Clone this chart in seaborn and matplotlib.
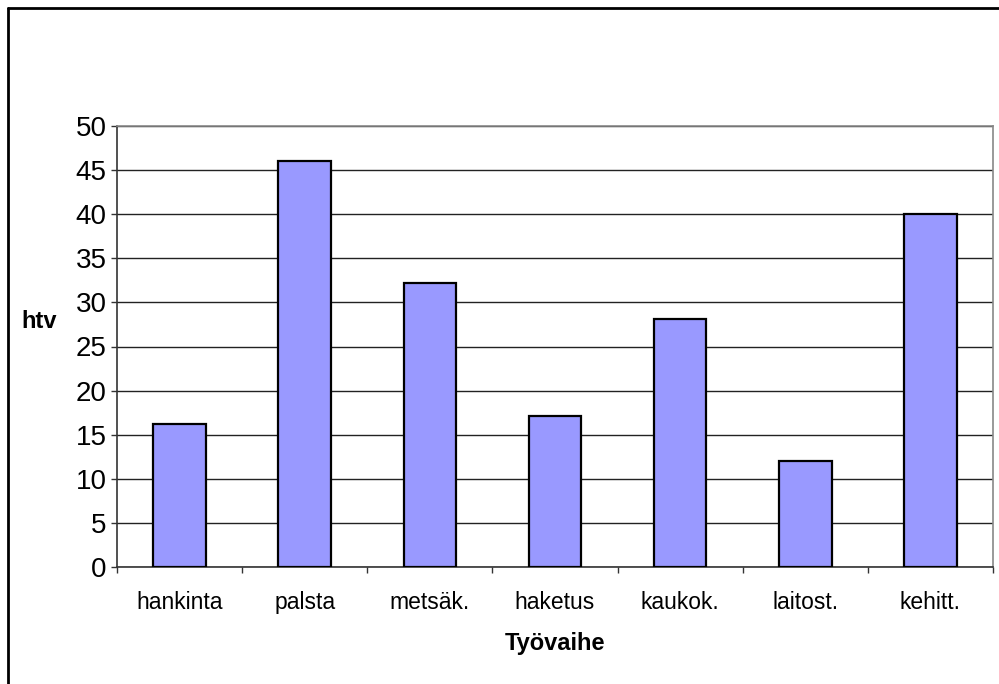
import matplotlib
matplotlib.use("Agg")
import matplotlib.pyplot as plt
import seaborn as sns
import pandas as pd
from matplotlib.lines import Line2D

# data
categories = ["hankinta", "palsta", "metsäk.", "haketus", "kaukok.", "laitost.", "kehitt."]
htv_values = [16.2, 46.0, 32.2, 17.1, 28.1, 12.0, 40.0]
y_ticks = [0, 5, 10, 15, 20, 25, 30, 35, 40, 45, 50]

sns.set_theme(style="white")
plt.rcParams["font.family"] = ["Liberation Sans", "DejaVu Sans"]
plt.rcParams.update({
    "text.color": "black",
    "axes.labelcolor": "black",
    "xtick.color": "black",
    "ytick.color": "black",
})

df = pd.DataFrame({"vaihe": categories, "htv": htv_values})

fig = plt.figure(figsize=(9.99, 6.84), dpi=100)
ax = fig.add_axes([117 / 999, 1 - 567 / 684, 876 / 999, 441 / 684])

sns.barplot(data=df, x="vaihe", y="htv", color="#9999FF", saturation=1,
            width=0.42, edgecolor="black", linewidth=1.6, ax=ax, zorder=3)

ax.set_ylim(0, 50)
ax.set_xlim(-0.5, len(categories) - 0.5)
ax.set_yticks(y_ticks)
ax.set_yticklabels([str(v) for v in y_ticks], fontsize=20)
ax.yaxis.grid(True, color="#222222", linewidth=1.0, zorder=0)
ax.set_axisbelow(True)

# excel style category ticks between bars
ax.set_xticks([i - 0.5 for i in range(len(categories) + 1)], minor=False)
ax.set_xticklabels([])
ax.set_xticks(range(len(categories)), minor=True)
ax.set_xticklabels(categories, minor=True, fontsize=16.5)
ax.tick_params(axis="x", which="major", direction="out", length=4.5, width=1, color="#333333", bottom=True)
ax.tick_params(axis="x", which="minor", length=0, pad=17)
ax.tick_params(axis="y", direction="out", length=4.5, width=1, color="#333333", left=True, pad=3)

for side in ["top", "right"]:
    ax.spines[side].set_visible(True)
    ax.spines[side].set_color("#888888")
    ax.spines[side].set_linewidth(1.2)
for side in ["left", "bottom"]:
    ax.spines[side].set_color("#333333")
    ax.spines[side].set_linewidth(1.2)

ax.set_xlabel("Työvaihe", fontsize=17, fontweight="bold", labelpad=13)
ax.set_ylabel("htv", fontsize=17, fontweight="bold", rotation=0, va="center", ha="center")
ax.yaxis.set_label_coords(-0.089, 0.556)

# outer frame of the chart object (top and left edges visible)
fig.add_artist(Line2D([8 / 999, 1], [1 - 8 / 684, 1 - 8 / 684], color="black", linewidth=2,
                      transform=fig.transFigure))
fig.add_artist(Line2D([8 / 999, 8 / 999], [0, 1 - 8 / 684], color="black", linewidth=2,
                      transform=fig.transFigure))

fig.savefig("out.png", dpi=100)
